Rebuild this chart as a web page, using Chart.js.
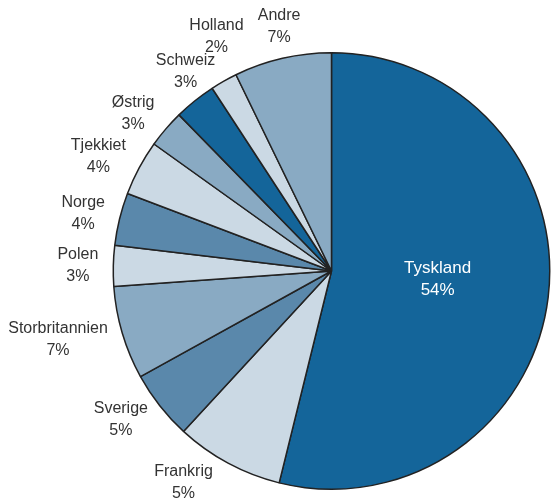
<!DOCTYPE html>
<html>
<head>
<meta charset="utf-8">
<script src="https://cdn.jsdelivr.net/npm/chart.js@4/dist/chart.umd.min.js"></script>
<style>
  html, body { margin: 0; padding: 0; background: #fff; }
  canvas { display: block; }
</style>
</head>
<body>
<canvas id="pie" width="551" height="498"></canvas>
<script>
// lande, andel (aflæst fra vinkler) og de viste procentetiketter
var lande = ['Tyskland', 'Frankrig', 'Sverige', 'Storbritannien', 'Polen', 'Norge',
             'Tjekkiet', 'Østrig', 'Schweiz', 'Holland', 'Andre'];
var andele = [53.8, 8.0, 5.1, 6.9, 3.0, 3.9, 4.1, 2.8, 3.1, 2.0, 7.2];
var etiketter = ['54%', '5%', '5%', '7%', '3%', '4%', '4%', '3%', '3%', '2%', '7%'];

var DARK = '#14659a', MID = '#5a88ab', LIGHTMID = '#89aac3', LIGHT = '#cbd9e4';
var farver = [DARK, LIGHT, MID, LIGHTMID, LIGHT, MID, LIGHT, LIGHTMID, DARK, LIGHT, LIGHTMID];

var GAP = 15, HH = 17;   // afstand fra cirklen, halv højde af etiketblok

var labelPlugin = {
    id: 'pieLabels',
    afterDatasetsDraw: function (chart) {
        var ctx = chart.ctx;
        var arcs = chart.getDatasetMeta(0).data;
        var boxes = [];
        ctx.save();
        ctx.textAlign = 'center';
        ctx.textBaseline = 'middle';
        ctx.font = '16px "Liberation Sans", Arial, sans-serif';

        arcs.forEach(function (arc, i) {
            var p = arc.getProps(['x', 'y', 'startAngle', 'endAngle', 'outerRadius'], true);
            var mid = (p.startAngle + p.endAngle) / 2;
            var c = Math.cos(mid), s = Math.sin(mid);
            if (i == 0) {
                boxes.push({ x: p.x + c * p.outerRadius * 0.49, y: p.y + s * p.outerRadius * 0.49 - 5, inside: true });
                return;
            }
            var w = Math.max(ctx.measureText(lande[i]).width, ctx.measureText(etiketter[i]).width);
            // ankerpunkt lige uden for cirklen, etiketten hænger på den side der vender ind
            var R = p.outerRadius + GAP;
            var ax = p.x + c * R, ay = p.y + s * R;
            var bx, by;
            if (Math.abs(c) >= Math.abs(s)) {
                bx = ax + (c < 0 ? -w / 2 : w / 2);
                by = ay + s * 8;
            } else {
                bx = ax;
                by = ay + (s < 0 ? -HH : HH);
            }
            var maxY = chart.height - 15;
            if (by > maxY) {
                by = maxY;
                var R2 = p.outerRadius + 10;
                var dy = by - HH - p.y;
                var ex = Math.sqrt(Math.max(R2 * R2 - dy * dy, 0));
                bx = c < 0 ? p.x - ex - w / 2 : p.x + ex + w / 2;
            }
            boxes.push({ x: bx, y: by, w: w, v: andele[i] });
        });

        // skub mindre etiket lodret væk ved overlap med naboen
        for (var k = 1; k < boxes.length - 1; k++) {
            var a = boxes[k], n = boxes[k + 1];
            if (Math.abs(a.x - n.x) < (a.w + n.w) / 2 && Math.abs(a.y - n.y) < 2 * HH) {
                var sm = a.v < n.v ? a : n, big = sm === a ? n : a;
                sm.y = sm.y < big.y ? big.y - 2 * HH - 1 : big.y + 2 * HH + 1;
            }
        }

        boxes.forEach(function (bx, i) {
            if (bx.inside) {
                ctx.font = '17px "Liberation Sans", Arial, sans-serif';
                ctx.fillStyle = '#ffffff';
            } else {
                ctx.font = '16px "Liberation Sans", Arial, sans-serif';
                ctx.fillStyle = '#333333';
            }
            ctx.fillText(lande[i], bx.x, bx.y - 11);
            ctx.fillText(etiketter[i], bx.x, bx.y + 11);
        });
        ctx.restore();
    }
};

new Chart(document.getElementById('pie').getContext('2d'), {
    type: 'pie',
    data: {
        labels: lande,
        datasets: [{
            data: andele,
            backgroundColor: farver,
            borderColor: '#222222',
            borderWidth: 1.5
        }]
    },
    options: {
        responsive: false,
        animation: false,
        layout: { padding: { left: 112, top: 52, right: 0, bottom: 8 } },
        plugins: {
            legend: { display: false },
            tooltip: { enabled: false }
        }
    },
    plugins: [labelPlugin]
});
</script>
</body>
</html>
